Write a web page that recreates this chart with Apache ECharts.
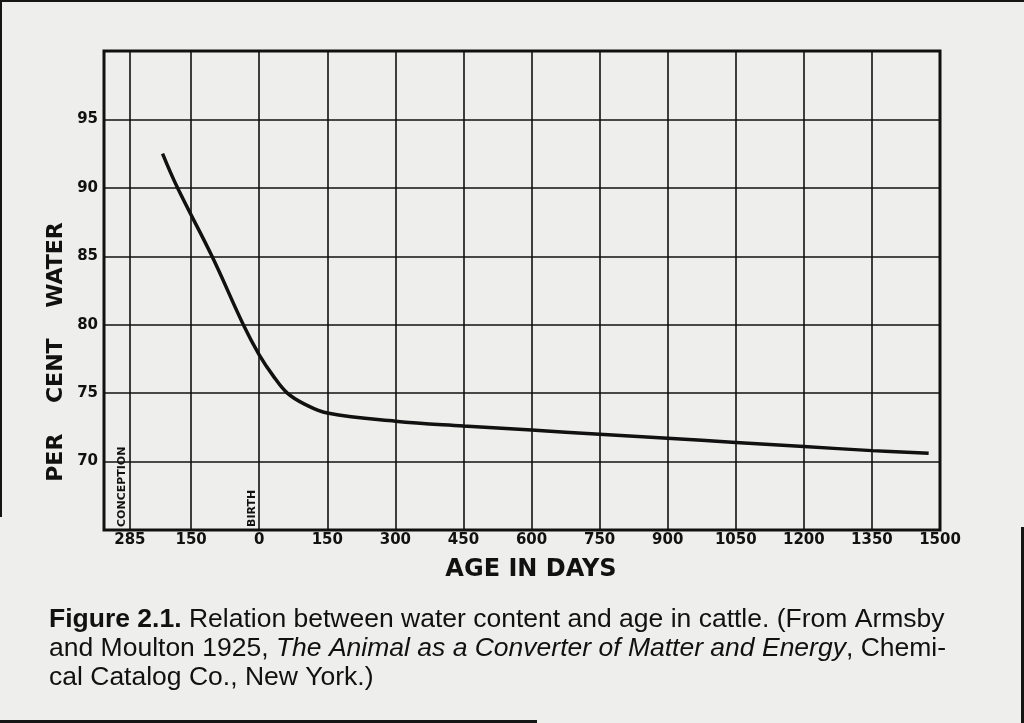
<!DOCTYPE html>
<html>
<head>
<meta charset="utf-8">
<script src="https://cdn.jsdelivr.net/npm/echarts@6/dist/echarts.min.js"></script>
<style>
  html, body { margin: 0; padding: 0; background: #eeeeec; }
  #chart { width: 1024px; height: 723px; }
</style>
</head>
<body>
<div id="chart"></div>
<script>
// age in days (0 = birth, -285 = conception) and per cent water
var ageDays = [-213, -180, -104, -35, 0, 30, 62, 100, 150, 300, 450, 600, 750, 900, 1050, 1200, 1350, 1475]
var waterPct = [92.5, 90, 85, 80, 77.8, 76.3, 75, 74.2, 73.55, 72.95, 72.6, 72.3, 72.0, 71.7, 71.4, 71.1, 70.8, 70.6]
// grid lines / tick labels on the age axis
var xTicks = [-285, -150, 0, 150, 300, 450, 600, 750, 900, 1050, 1200, 1350, 1500]
// vertical event notes
var eventDays = [-285, 0]
var eventNames = ['CONCEPTION', 'BIRTH']

var ink = '#111'
var tickFont = { color: ink, fontFamily: 'DejaVu Sans', fontWeight: 'bold', fontSize: 15 }

var chart = echarts.init(document.getElementById('chart'))
chart.setOption({
  backgroundColor: '#eeeeec',
  animation: false,
  grid: {
    left: 104,
    right: 84,
    top: 51,
    bottom: 193,
    show: true,
    borderColor: ink,
    borderWidth: 3
  },
  xAxis: {
    type: 'value',
    min: -342,
    max: 1500,
    name: 'AGE IN DAYS',
    nameLocation: 'middle',
    nameGap: 28,
    nameTextStyle: {
      color: ink,
      fontFamily: 'DejaVu Sans',
      fontWeight: 'bold',
      fontSize: 24,
      padding: [0, 0, 0, 18]
    },
    axisLine: { show: false },
    axisTick: { show: false, customValues: xTicks },
    axisLabel: Object.assign({
      customValues: xTicks,
      margin: 3,
      formatter: function (v) { return String(Math.abs(v)) }
    }, tickFont),
    splitLine: { show: true, lineStyle: { color: ink, width: 1.6 } }
  },
  yAxis: {
    type: 'value',
    min: 65,
    max: 100,
    interval: 5,
    axisLine: { show: false },
    axisTick: { show: false },
    axisLabel: Object.assign({ showMinLabel: false, showMaxLabel: false, margin: 6 }, tickFont),
    splitLine: { show: true, lineStyle: { color: ink, width: 1.6 } }
  },
  series: [
    {
      type: 'line',
      data: ageDays.map(function (d, i) { return [d, waterPct[i]] }),
      smooth: 0.4,
      showSymbol: false,
      lineStyle: { color: ink, width: 3.5 },
      markLine: {
        silent: true,
        symbol: 'none',
        lineStyle: { color: 'rgba(0,0,0,0)', width: 0 },
        label: {
          show: true,
          position: 'insideStartTop',
          distance: [3, 2],
          color: ink,
          fontFamily: 'DejaVu Sans',
          fontWeight: 'bold',
          fontSize: 11
        },
        data: eventDays.map(function (d, i) {
          return { xAxis: d, label: { formatter: eventNames[i] } }
        })
      }
    }
  ],
  graphic: [
    {
      type: 'text',
      x: 56,
      y: 352,
      rotation: Math.PI / 2,
      style: {
        text: 'PER    CENT    WATER',
        fill: ink,
        font: 'bold 22px "DejaVu Sans"',
        textAlign: 'center',
        textVerticalAlign: 'middle'
      }
    },
    {
      type: 'text',
      left: 49,
      top: 605,
      style: {
        text: '{b|Figure 2.1.} Relation between water content and age in cattle. (From Armsby\n' +
          'and Moulton 1925, {i|The Animal as a Converter of Matter and Energy}, Chemi-\n' +
          'cal Catalog Co., New York.)',
        fill: ink,
        fontFamily: 'Liberation Sans',
        fontSize: 26.5,
        lineHeight: 29,
        rich: {
          b: { fontFamily: 'Liberation Sans', fontSize: 26.5, fontWeight: 'bold', lineHeight: 29, fill: ink },
          i: { fontFamily: 'Liberation Sans', fontSize: 26.5, fontStyle: 'italic', lineHeight: 29, fill: ink }
        }
      }
    },
    // dark scan edges
    { type: 'rect', shape: { x: 0, y: 0, width: 1024, height: 2 }, style: { fill: '#151515' } },
    { type: 'rect', shape: { x: 0, y: 0, width: 2, height: 517 }, style: { fill: '#151515' } },
    { type: 'rect', shape: { x: 0, y: 720, width: 537, height: 3 }, style: { fill: '#151515' } },
    { type: 'rect', shape: { x: 1021, y: 527, width: 3, height: 196 }, style: { fill: '#151515' } }
  ]
})
</script>
</body>
</html>
